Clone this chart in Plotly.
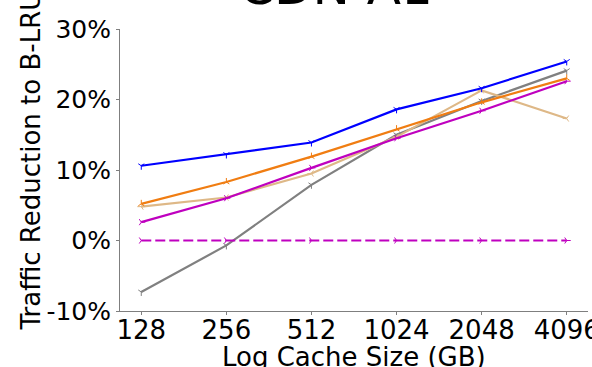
import plotly.graph_objects as go
import math

cache_sizes = [128, 256, 512, 1024, 2048, 4096]
tick_labels = ["128", "256", "512", "1024", "2048", "4096"]

blue_vals = [10.6, 12.2, 13.9, 18.6, 21.6, 25.4]
orange_vals = [5.2, 8.3, 11.9, 15.8, 19.6, 23.0]
tan_vals = [4.8, 6.1, 9.5, 14.7, 21.3, 17.3]
gray_vals = [-7.3, -0.7, 7.9, 15.0, 19.8, 24.1]
magenta_vals = [2.6, 6.0, 10.3, 14.5, 18.4, 22.6]
baseline_vals = [0, 0, 0, 0, 0, 0]

series = [
    ("Gray", gray_vals, "#808080", "solid", "y-down-open"),
    ("Tan", tan_vals, "#deb887", "solid", "y-left-open"),
    ("Magenta", magenta_vals, "#bf00bf", "solid", "y-right-open"),
    ("Orange", orange_vals, "#f07d12", "solid", "y-up-open"),
    ("Blue", blue_vals, "#0000ff", "solid", "y-down-open"),
    ("B-LRU", baseline_vals, "#bf00bf", "10px,4px", "y-right-open"),
]

fig = go.Figure()
for name, vals, color, dash, sym in series:
    fig.add_trace(go.Scatter(
        x=cache_sizes, y=vals, mode="lines+markers", name=name,
        line=dict(color=color, width=2.2, dash=dash),
        marker=dict(symbol=sym, size=5, color=color, line=dict(color=color, width=1)),
        showlegend=False,
    ))

pad = 0.25 * math.log10(2)
font = "DejaVu Sans"
fig.update_layout(
    width=592, height=367,
    margin=dict(l=120, r=4, t=29, b=56, autoexpand=False),
    paper_bgcolor="white", plot_bgcolor="white",
    font=dict(family=font, size=24, color="black"),
    xaxis=dict(
        type="log", automargin=False, ticklabeloverflow="allow",
        range=[math.log10(128) - pad, math.log10(4096) + pad],
        tickvals=cache_sizes, ticktext=tick_labels,
        showgrid=False, zeroline=False,
        showline=True, linecolor="#7f7f7f", linewidth=1,
        ticks="outside", ticklen=3, tickcolor="#7f7f7f",
        tickfont=dict(size=26), ticklabelstandoff=-7,
    ),
    yaxis=dict(
        automargin=False, ticklabeloverflow="allow",
        range=[-10, 30],
        tickvals=[-10, 0, 10, 20, 30],
        ticktext=["-10%", "0%", "10%", "20%", "30%"],
        showgrid=False, zeroline=False,
        showline=True, linecolor="#7f7f7f", linewidth=1,
        ticks="outside", ticklen=3, tickcolor="#7f7f7f",
        tickfont=dict(size=25),
    ),
    annotations=[
        dict(text="CDN-A1", xref="paper", yref="paper", x=0.5, y=1.0,
             xanchor="center", yanchor="bottom", yshift=11, xshift=-18,
             showarrow=False, font=dict(size=50, family=font)),
        dict(text="Log Cache Size (GB)", xref="paper", yref="paper", x=0.5, y=0,
             xanchor="center", yanchor="top", yshift=-29,
             showarrow=False, font=dict(size=26, family=font)),
        dict(text="Traffic Reduction to B-LRU", xref="paper", yref="paper", x=0, y=0.53,
             xanchor="right", yanchor="middle", xshift=-72, textangle=-90,
             showarrow=False, font=dict(size=26, family=font)),
    ],
)

fig.write_html("out.html", config={"displayModeBar": False},
               post_script="document.body.style.margin='0';document.body.style.overflow='hidden';")
